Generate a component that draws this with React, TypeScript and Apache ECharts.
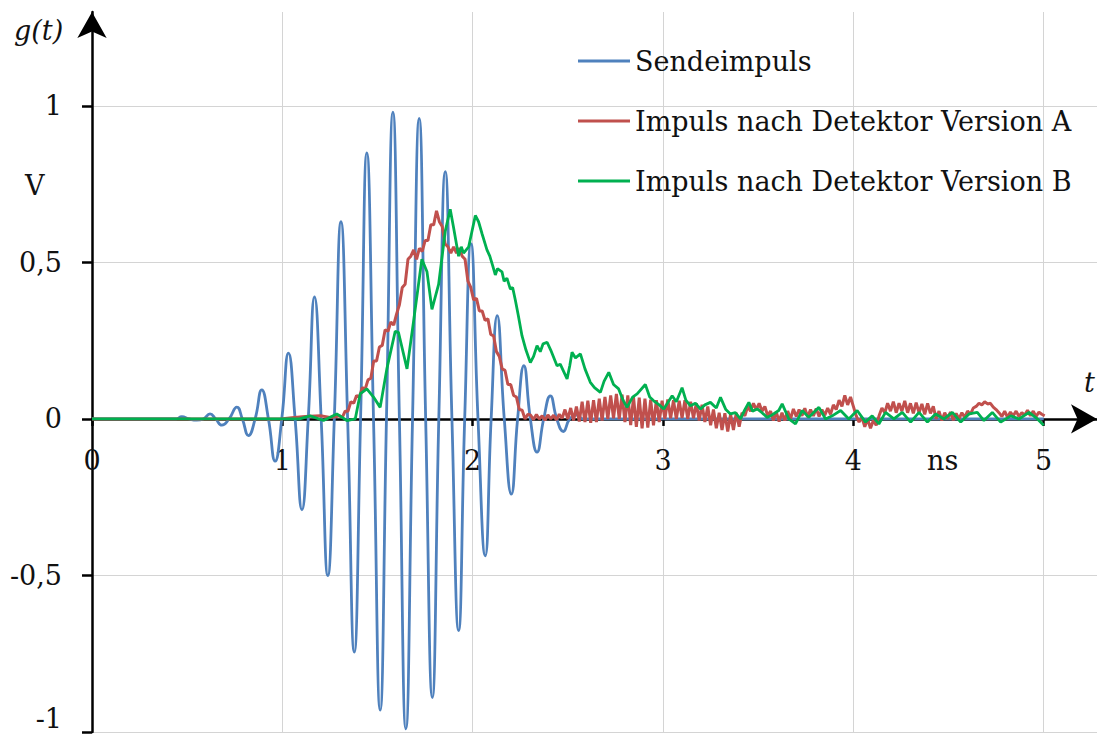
import React, { useEffect, useRef } from "react";
import * as echarts from "echarts";

// ---------- data (t in ns, g(t) in V) ----------
const SERIES_NAMES = [
  "Sendeimpuls",
  "Impuls nach Detektor Version A",
  "Impuls nach Detektor Version B",
];

const X_MIN = 0;
const X_MAX = 5.28;
const X_INTERVAL = 1;
const Y_MIN = -1;
const Y_MAX = 1.3;
const Y_INTERVAL = 0.5;

// Sendeimpuls: extrema and zero crossings
const sendeimpuls: [number, number][] = [
  [0, 0], [0.44, 0], [0.472, 0.007], [0.51, 0], [0.55, -0.004], [0.585, 0],
  [0.62, 0.016], [0.65, 0], [0.682, -0.02], [0.72, 0], [0.761, 0.038], [0.79, 0],
  [0.822, -0.053], [0.857, 0], [0.892, 0.093], [0.927, 0], [0.962, -0.135], [0.997, 0],
  [1.032, 0.21], [1.067, 0], [1.103, -0.29], [1.136, 0], [1.169, 0.39], [1.204, 0],
  [1.239, -0.5], [1.273, 0], [1.308, 0.63], [1.343, 0], [1.378, -0.745], [1.411, 0],
  [1.444, 0.85], [1.479, 0], [1.514, -0.93], [1.547, 0], [1.581, 0.98], [1.615, 0],
  [1.649, -0.99], [1.684, 0], [1.719, 0.96], [1.753, 0], [1.788, -0.89], [1.822, 0],
  [1.856, 0.79], [1.891, 0], [1.926, -0.676], [1.958, 0], [1.991, 0.56], [2.028, 0],
  [2.066, -0.437], [2.097, 0], [2.129, 0.33], [2.166, 0], [2.203, -0.24], [2.236, 0],
  [2.269, 0.17], [2.303, 0], [2.338, -0.106], [2.373, 0], [2.408, 0.074], [2.442, 0],
  [2.476, -0.04], [2.51, 0], [2.545, 0.012], [2.58, 0], [2.62, 0], [3, 0], [4, 0], [5, 0],
];

// Version A: quiet start
const versionAStart: [number, number][] = [
  [0, 0], [0.99, 0], [1.05, 0.004], [1.12, 0.008], [1.2, 0.01], [1.25, 0.005], [1.285, 0.008],
];

// Version A sampled every 15 ps
const SAMPLE_STEP_NS = 0.015;
const VERSION_A_RISE_T0 = 1.3;
const versionARise = [
  0.01, 0.005, 0.025, 0.025, 0.055, 0.05, 0.075, 0.07, 0.1, 0.095,
  0.125, 0.13, 0.185, 0.185, 0.23, 0.235, 0.285, 0.28, 0.31, 0.3,
  0.335, 0.365, 0.42, 0.43, 0.51, 0.52, 0.54, 0.51, 0.545, 0.535,
  0.57, 0.57, 0.62, 0.62, 0.665, 0.63, 0.615, 0.56, 0.55, 0.53,
  0.55, 0.53, 0.545, 0.52, 0.51, 0.44, 0.42, 0.38, 0.385, 0.345,
  0.345, 0.315, 0.32, 0.27, 0.265, 0.215, 0.2, 0.16, 0.155, 0.11,
  0.11, 0.075, 0.07, 0.03, 0.028, 0.0, 0.015,
];
const VERSION_A_TAIL_T0 = 2.305;
const versionATail = [
  0.012, -0.002, 0.014, 0.0, 0.01, -0.004, 0.013, 0.0, 0.012, -0.003, 0.015, 0.002,
  0.03, 0.0, 0.035, -0.005, 0.04,
  -0.008, 0.055, -0.01, 0.058, -0.012, 0.06, -0.01, 0.065, -0.005, 0.07, 0.0, 0.075, 0.002,
  0.08, 0.0, 0.078, -0.01, 0.075, -0.02, 0.07, -0.025, 0.068, -0.03, 0.065, -0.028, 0.062,
  -0.02, 0.06, -0.01, 0.058, 0.0, 0.062, 0.002, 0.06, 0.0, 0.058, 0.003, 0.06, 0.0, 0.055, 0.002, 0.05, -0.005, 0.045, -0.01, 0.04,
  -0.02, 0.03, -0.03, 0.02, -0.035, 0.018, -0.04, 0.015, -0.035, 0.02, -0.025,
  0.02, 0.01, 0.04, 0.025, 0.05, 0.03, 0.05, 0.025, 0.04, 0.01,
  0.025, -0.005, 0.022, -0.008, 0.02, -0.005, 0.025, 0.0,
  0.032, 0.008, 0.03, 0.01, 0.034, 0.006, 0.03, 0.01, 0.033, 0.008, 0.03, 0.012, 0.035, 0.015,
  0.045, 0.03, 0.06, 0.04, 0.075, 0.045, 0.07, 0.04,
  0.01, -0.01, 0.005, -0.025, 0.0, -0.03, -0.005, -0.02,
  0.01, 0.035, 0.02, 0.05, 0.025, 0.055, 0.02, 0.05, 0.025, 0.058, 0.02, 0.05, 0.018, 0.052, 0.02, 0.048, 0.015, 0.05, 0.018, 0.04,
  0.0, 0.025, -0.005, 0.02, 0.0, 0.022, -0.004, 0.018, 0.0, 0.02, 0.005, 0.025, 0.015,
  0.035, 0.04, 0.05, 0.045, 0.055, 0.048, 0.05, 0.038, 0.03,
  0.02, 0.008, 0.025, 0.005, 0.022, 0.01, 0.025, 0.008, 0.02, 0.012, 0.028, 0.01, 0.025, 0.008, 0.022, 0.015, 0.01,
];

// Version B: points
const versionB: [number, number][] = [
  [0, 0], [1.09, 0], [1.146, 0.01], [1.216, -0.005], [1.286, 0.016], [1.339, -0.005],
  [1.383, 0.0], [1.409, 0.08], [1.444, 0.096], [1.479, 0.07], [1.514, 0.037], [1.549, 0.16],
  [1.593, 0.28], [1.61, 0.277], [1.655, 0.16], [1.689, 0.31], [1.733, 0.51], [1.76, 0.47],
  [1.786, 0.35], [1.821, 0.43], [1.856, 0.6], [1.882, 0.67], [1.9, 0.61], [1.926, 0.52],
  [1.94, 0.55], [1.952, 0.53], [1.979, 0.55], [2.014, 0.65], [2.031, 0.63], [2.05, 0.59],
  [2.075, 0.54], [2.09, 0.52], [2.105, 0.49], [2.119, 0.46], [2.13, 0.48], [2.154, 0.47],
  [2.165, 0.44], [2.18, 0.45], [2.198, 0.415], [2.21, 0.42], [2.224, 0.38], [2.24, 0.33],
  [2.259, 0.266], [2.28, 0.22], [2.303, 0.18], [2.32, 0.2], [2.338, 0.234], [2.355, 0.215],
  [2.37, 0.24], [2.391, 0.245], [2.41, 0.22], [2.443, 0.17], [2.46, 0.175], [2.496, 0.128],
  [2.51, 0.17], [2.522, 0.213], [2.54, 0.195], [2.566, 0.208], [2.59, 0.16], [2.618, 0.117],
  [2.64, 0.1], [2.671, 0.085], [2.69, 0.12], [2.715, 0.149], [2.74, 0.11], [2.767, 0.096],
  [2.79, 0.06], [2.811, 0.037], [2.84, 0.07], [2.864, 0.08], [2.907, 0.11], [2.93, 0.07],
  [2.951, 0.058], [2.98, 0.045], [3.004, 0.032], [3.048, 0.074], [3.07, 0.055], [3.1, 0.1],
  [3.12, 0.06], [3.144, 0.042], [3.17, 0.05], [3.197, 0.032], [3.22, 0.045], [3.249, 0.053],
  [3.28, 0.035], [3.302, 0.069], [3.33, 0.03], [3.354, 0.016], [3.38, 0.02], [3.407, 0.0],
  [3.43, 0.03], [3.451, 0.053], [3.47, 0.025], [3.495, 0.032], [3.52, 0.02], [3.547, 0.005],
  [3.565, 0.01], [3.608, 0.027], [3.626, 0.048], [3.661, 0], [3.696, -0.016], [3.731, 0.027],
  [3.766, 0.005], [3.79, 0.02], [3.819, 0.037], [3.854, 0], [3.889, 0.01], [3.933, 0.027],
  [3.976, 0], [4.02, 0.027], [4.064, -0.01], [4.099, 0.01], [4.134, -0.016], [4.169, 0.021],
  [4.213, 0], [4.257, 0.021], [4.301, -0.01], [4.345, 0.021], [4.389, -0.01], [4.432, 0.016],
  [4.476, 0], [4.52, 0.021], [4.564, -0.01], [4.608, 0.016], [4.651, 0.021], [4.686, -0.005],
  [4.73, 0.021], [4.774, -0.01], [4.827, 0.01], [4.87, 0], [4.923, 0.021], [4.967, 0],
  [5.0, -0.02],
];

const COLORS = ["#4F81BD", "#C0504D", "#00B050"];
const FONT = "'DejaVu Serif', serif";

const WIDTH = 1097;
const HEIGHT = 743;
const GRID_TOP = 12;
const GRID_BOTTOM = 11;

function sampled(t0: number, values: number[]): [number, number][] {
  return values.map((v, i) => [+(t0 + i * SAMPLE_STEP_NS).toFixed(4), v]);
}

export default function App() {
  const ref = useRef<HTMLDivElement>(null);

  useEffect(() => {
    document.body.style.margin = "0";
    if (!ref.current) return;
    const chart = echarts.init(ref.current, null, { renderer: "svg" });

    const versionA: [number, number][] = [
      ...versionAStart,
      ...sampled(VERSION_A_RISE_T0, versionARise),
      ...sampled(VERSION_A_TAIL_T0, versionATail),
    ];

    // place the x axis on y = 0 by offsetting it up from the grid bottom
    const gridH = HEIGHT - GRID_TOP - GRID_BOTTOM;
    const zeroOffset = -gridH * ((0 - Y_MIN) / (Y_MAX - Y_MIN));

    const labelStyle = { fontFamily: FONT, fontSize: 27, color: "#111" };

    chart.setOption({
      animation: false,
      backgroundColor: "#fff",
      grid: { left: 92, right: 0, top: GRID_TOP, bottom: GRID_BOTTOM, containLabel: false, outerBoundsMode: "none" },
      legend: {
        orient: "vertical",
        left: 573,
        top: 40,
        icon: "rect",
        itemWidth: 52,
        itemHeight: 3,
        itemGap: 28,
        textStyle: { ...labelStyle, lineHeight: 32 },
        data: SERIES_NAMES,
      },
      xAxis: {
        type: "value",
        min: X_MIN,
        max: X_MAX,
        interval: X_INTERVAL,
        position: "bottom",
        offset: zeroOffset,
        axisLine: {
          onZero: false,
          lineStyle: { color: "#000", width: 2.5 },
          symbol: ["none", "arrow"],
          symbolSize: [22, 26],
          symbolOffset: [0, 0],
        },
        axisTick: { show: true, length: 7, lineStyle: { color: "#000", width: 2.5 } },
        axisLabel: { ...labelStyle, margin: 28, showMaxLabel: false },
        splitLine: { show: true, showMaxLine: false, lineStyle: { color: "#d4d4d4", width: 1 } },
      },
      yAxis: {
        type: "value",
        min: Y_MIN,
        max: Y_MAX,
        interval: Y_INTERVAL,
        position: "left",
        axisLine: {
          onZero: false,
          lineStyle: { color: "#000", width: 2.5 },
          symbol: ["none", "arrow"],
          symbolSize: [22, 26],
          symbolOffset: [0, 0],
        },
        axisTick: { show: true, length: 10, lineStyle: { color: "#000", width: 2.5 } },
        axisLabel: {
          ...labelStyle,
          margin: 30,
          showMaxLabel: false,
          verticalAlignMinLabel: "bottom",
          formatter: (v: number) => String(v).replace(".", ","),
        },
        splitLine: { show: true, showMaxLine: false, lineStyle: { color: "#d4d4d4", width: 1 } },
      },
      graphic: [
        { type: "text", x: 14, y: 30, style: { text: "g(t)", font: `italic 27px ${FONT}`, fill: "#111", verticalAlign: "middle" } },
        { type: "text", x: 25, y: 185, style: { text: "V", font: `27px ${FONT}`, fill: "#111", verticalAlign: "middle" } },
        { type: "text", x: 1084, y: 382, style: { text: "t", font: `italic 27px ${FONT}`, fill: "#111", verticalAlign: "middle" } },
        { type: "text", x: 927, y: 460, style: { text: "ns", font: `27px ${FONT}`, fill: "#111", verticalAlign: "middle" } },
      ],
      series: [
        {
          name: SERIES_NAMES[0],
          type: "line",
          data: sendeimpuls,
          smooth: 0.5,
          showSymbol: false,
          lineStyle: { color: COLORS[0], width: 2.8 },
          itemStyle: { color: COLORS[0] },
        },
        {
          name: SERIES_NAMES[1],
          type: "line",
          data: versionA,
          showSymbol: false,
          lineStyle: { color: COLORS[1], width: 3 },
          itemStyle: { color: COLORS[1] },
        },
        {
          name: SERIES_NAMES[2],
          type: "line",
          data: versionB,
          showSymbol: false,
          lineStyle: { color: COLORS[2], width: 2.8 },
          itemStyle: { color: COLORS[2] },
        },
      ],
    });

    return () => chart.dispose();
  }, []);

  return <div ref={ref} style={{ width: WIDTH, height: HEIGHT }} />;
}
